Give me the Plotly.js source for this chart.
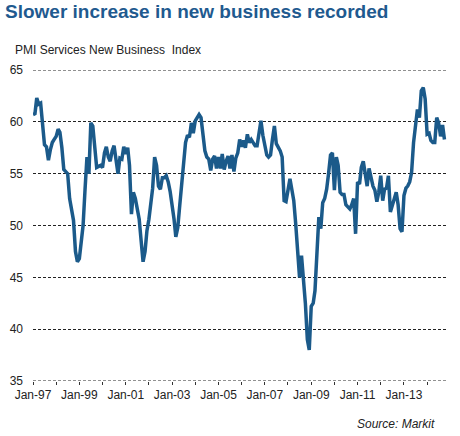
<!DOCTYPE html>
<html>
<head>
<meta charset="utf-8">
<script src="https://cdn.plot.ly/plotly-3.0.1.min.js"></script>
<style>
  html, body { margin: 0; padding: 0; background: #ffffff; }
  #chart { width: 460px; height: 436px; }
</style>
</head>
<body>
<div id="chart"></div>
<script>
// PMI Services New Business Index, monthly from Jan 1997
const startYear = 1997;
const newBusinessIndex = [
  // 1997
  60.7, 60.8, 62.3, 61.7, 61.8, 59.8, 57.8, 57.6, 56.3, 57.3, 58.0, 58.3,
  // 1998
  58.6, 59.3, 59.0, 57.5, 55.4, 55.2, 55.0, 52.6, 51.6, 50.5, 47.5, 46.5,
  // 1999
  46.8, 48.5, 50.0, 53.5, 56.6, 55.0, 59.9, 59.6, 57.9, 55.6, 55.7, 55.8,
  // 2000
  55.6, 57.0, 57.6, 56.6, 56.2, 57.2, 57.7, 56.3, 55.0, 56.5, 56.4, 57.6,
  // 2001
  56.9, 57.5, 55.8, 51.1, 53.2, 52.6, 51.5, 50.6, 48.5, 46.5, 47.5, 49.5,
  // 2002
  50.6, 51.9, 53.6, 56.6, 55.8, 53.8, 53.5, 54.6, 54.6, 54.8, 54.2, 53.3,
  // 2003
  52.0, 50.6, 48.9, 49.8, 51.9, 54.2, 56.7, 58.0, 58.7, 58.5, 59.9, 58.9,
  // 2004
  60.1, 60.5, 60.7, 60.4, 59.0, 57.2, 56.6, 56.4, 55.3, 56.4, 56.7, 55.5,
  // 2005
  56.6, 55.5, 56.9, 55.4, 56.2, 56.7, 55.5, 56.8, 55.2, 56.5, 57.0, 58.3,
  // 2006
  57.6, 58.2, 57.5, 58.8, 58.0, 58.3, 58.0, 57.7, 57.7, 59.0, 60.1, 58.7,
  // 2007
  57.7, 56.8, 56.6, 56.8, 58.3, 59.6, 57.9, 57.6, 57.2, 56.6, 52.4, 52.3,
  // 2008
  53.3, 54.5, 53.5, 52.4, 50.2, 47.0, 45.0, 47.1, 44.7, 42.5, 39.0, 38.0,
  // 2009
  42.2, 42.5, 43.7, 47.3, 50.8, 49.7, 52.2, 52.6, 53.5, 55.0, 56.8, 57.0,
  // 2010
  53.4, 56.6, 55.8, 53.2, 53.0, 53.0, 52.0, 51.8, 51.6, 52.0, 52.6, 49.2,
  // 2011
  54.2, 54.0, 55.6, 56.2, 55.2, 53.8, 55.5, 54.5, 53.8, 53.4, 52.3, 53.2,
  // 2012
  54.8, 52.4, 53.5, 53.6, 54.8, 51.3, 52.0, 52.6, 53.2, 52.0, 49.7, 49.4,
  // 2013
  52.9, 53.6, 53.8, 54.2, 55.1, 58.0, 59.6, 61.2, 60.4, 63.0, 63.3, 62.2,
  // 2014
  58.8, 58.9, 58.2, 58.0, 58.0, 60.4, 59.9, 58.6, 59.7, 58.3
];

// month categories derived from start year
const months = newBusinessIndex.map((_, i) => {
  const y = startYear + Math.floor(i / 12);
  const m = (i % 12) + 1;
  return y + '-' + (m < 10 ? '0' + m : m) + '-01';
});

const tickDates = ['1997-01-01','1998-01-01','1999-01-01','2000-01-01','2001-01-01','2002-01-01',
  '2003-01-01','2004-01-01','2005-01-01','2006-01-01','2007-01-01','2008-01-01','2009-01-01',
  '2010-01-01','2011-01-01','2012-01-01','2013-01-01','2014-01-01'];
const tickLabels = ['Jan-97','','Jan-99','','Jan-01','','Jan-03','','Jan-05','','Jan-07','',
  'Jan-09','','Jan-11','','Jan-13',''];
const yTicks = [35, 40, 45, 50, 55, 60, 65];
const yMin = 35, yMax = 65;

const lineColor = '#1b5a8a';
const gridColor = '#222222';
const gridDash = '3px,2px';
const font = 'Liberation Sans, Arial, Helvetica, sans-serif';

const trace = {
  x: months,
  y: newBusinessIndex,
  type: 'scatter',
  mode: 'lines',
  line: { color: lineColor, width: 3.5, shape: 'linear' },
  hoverinfo: 'skip'
};

// edge grid lines (top and bottom) that Plotly hides at the plot border
const edgeLines = [yMin, yMax].map(v => ({
  type: 'line', xref: 'paper', yref: 'y',
  x0: 0, x1: 1, y0: v, y1: v,
  line: { color: gridColor, width: 1, dash: gridDash },
  layer: 'below'
}));

const layout = {
  width: 460,
  height: 436,
  margin: { l: 33, r: 13, t: 69.5, b: 55, pad: 0 },
  paper_bgcolor: '#ffffff',
  plot_bgcolor: '#ffffff',
  showlegend: false,
  font: { family: font, size: 12, color: '#222222' },
  title: {
    text: '<b>Slower increase in new business recorded</b>',
    font: { family: font, size: 19, color: '#1f5a8f' },
    x: 5 / 460, xanchor: 'left', xref: 'container',
    y: 1 - 11.5 / 436, yanchor: 'middle', yref: 'container'
  },
  xaxis: {
    type: 'date',
    range: ['1997-01-01', '2014-11-10'],
    tickmode: 'array',
    tickvals: tickDates,
    ticktext: tickLabels,
    ticks: 'outside',
    ticklen: 3,
    tickwidth: 1,
    tickcolor: '#333333',
    showgrid: false,
    showline: false,
    zeroline: false,
    tickfont: { family: font, size: 12, color: '#222222' },
    fixedrange: true
  },
  yaxis: {
    range: [yMin, yMax],
    tickmode: 'array',
    tickvals: yTicks,
    ticktext: yTicks.map(String),
    ticks: '',
    ticklabelstandoff: 9,
    showgrid: true,
    gridcolor: gridColor,
    gridwidth: 1,
    griddash: gridDash,
    showline: false,
    zeroline: false,
    tickfont: { family: font, size: 12, color: '#222222' },
    fixedrange: true
  },
  shapes: edgeLines,
  annotations: [
    {
      text: 'PMI Services New Business&nbsp;&nbsp;Index',
      xref: 'paper', yref: 'paper',
      x: (13 - 33) / 414, y: (381 - 49) / 311.5,
      xanchor: 'left', yanchor: 'middle',
      showarrow: false,
      font: { family: font, size: 12, color: '#222222' }
    },
    {
      text: '<i>Source: Markit</i>',
      xref: 'paper', yref: 'paper',
      x: (437 - 33) / 414, y: (381 - 424) / 311.5,
      xanchor: 'right', yanchor: 'middle',
      showarrow: false,
      font: { family: font, size: 12, color: '#222222' }
    }
  ]
};

Plotly.newPlot('chart', [trace], layout, { displayModeBar: false, staticPlot: true });
</script>
</body>
</html>
